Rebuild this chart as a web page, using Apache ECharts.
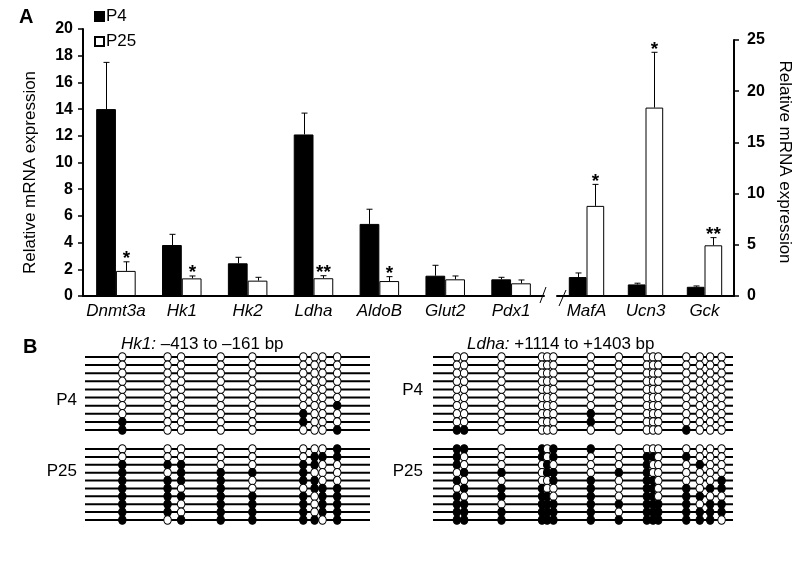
<!DOCTYPE html>
<html><head><meta charset="utf-8">
<script src="https://cdn.jsdelivr.net/npm/echarts/dist/echarts.min.js"></script>
<style>html,body{margin:0;padding:0;background:#fff}#c{width:800px;height:563px}</style>
</head><body><div id="c"></div>
<script>
// ---------- Panel A data ----------
const leftCategories = ['Dnmt3a','Hk1','Hk2','Ldha','AldoB','Glut2','Pdx1'];
const leftP4   = [14.0, 3.82, 2.45, 12.1, 5.4, 1.52, 1.25];
const leftP4SE = [3.5, 0.8, 0.45, 1.6, 1.1, 0.78, 0.15];
const leftP25   = [1.88, 1.32, 1.15, 1.33, 1.12, 1.25, 0.95];
const leftP25SE = [0.68, 0.18, 0.25, 0.19, 0.33, 0.25, 0.25];
const leftSig = ['*','*','','**','*','',''];
const leftTicks = [0,2,4,6,8,10,12,14,16,18,20];

const rightCategories = ['MafA','Ucn3','Gck'];
const rightP4   = [1.85, 1.13, 0.9];
const rightP4SE = [0.4, 0.12, 0.08];
const rightP25   = [8.8, 18.4, 4.95];
const rightP25SE = [2.1, 5.4, 0.75];
const rightSig = ['*','*','**'];
const rightTicks = [0,5,10,15,20,25];

const seriesNames = ['P4','P25'];
const yTitle = 'Relative mRNA expression';

// ---------- Panel B data (1 = methylated CpG) ----------
const hk1Region = [-413, -161];
const hk1Sites = [-380, -340, -328, -293, -265, -220, -210, -203, -190];
const hk1P4 = [
  '000000000','000000000','000000000','000000000','000000000',
  '000000000','000000001','000001000','100001000','100000001'
];
const hk1P25 = [
  '000000001','000000111','111001100','101111000','111101100',
  '110100111','111111011','110111011','110111011','101111101'
];
const ldhaRegion = [1114, 1403];
const ldhaSites = [1137,1144,1180,1219,1224,1230,1266,1293,1320,1326,1331,1358,1371,1381,1392];
const ldhaP4 = [
  '000000000000000','000000000000000','000000000000000','000000000000000','000000000000000',
  '000000000000000','000000000000000','000000100000000','000000100000000','110000000001000'
];
const ldhaP25 = [
  '110101100000000','100101001101000','100010001000100','011011011000000','100001101100001',
  '011100101101011','101110101101100','110111111111011','111111101111111','111111111111110'
];

// ---------- chart ----------
const FONT = 'Liberation Sans, Arial, Helvetica, sans-serif';
const chart = echarts.init(document.getElementById('c'));

function errRender(means, ses, sigs, side) {
  return function (params, api) {
    const i = params.dataIndex;
    const band = api.size([1, 0])[0];
    const off = side * band * 0.15;
    const base = api.coord([i, means[i]]);
    const top = api.coord([i, means[i] + ses[i]]);
    const x = Math.round(base[0] + off) + 0.5;
    const children = [
      {type:'line', shape:{x1:x, y1:base[1], x2:x, y2:top[1]}, style:{stroke:'#000', lineWidth:1}},
      {type:'line', shape:{x1:x-3, y1:top[1], x2:x+3, y2:top[1]}, style:{stroke:'#000', lineWidth:1}}
    ];
    if (sigs[i]) children.push({type:'text', style:{text:sigs[i], x:x, y:top[1]-3,
      textAlign:'center', textVerticalAlign:'middle', font:'bold 19px ' + FONT, fill:'#000'}});
    return {type:'group', children};
  };
}

function barSeries(name, data, gi, white) {
  return {
    type:'bar', name, data, xAxisIndex:gi, yAxisIndex:gi,
    barWidth:'30%', barGap:'0%',
    itemStyle:{color: white ? '#fff' : '#000', borderColor:'#000', borderWidth:1},
    emphasis:{disabled:true}, silent:true
  };
}
function errSeries(means, ses, sigs, side, gi) {
  return {
    type:'custom', xAxisIndex:gi, yAxisIndex:gi, silent:true, z:5,
    data: means.map((v, i) => [i, v + ses[i]]),
    renderItem: errRender(means, ses, sigs, side)
  };
}

function methSeries(gi, region, sites, rows) {
  const lines = {
    type:'custom', xAxisIndex:gi, yAxisIndex:gi, silent:true, z:2,
    encode:{x:[0,2], y:1},
    data: rows.map((r, k) => [region[0], k, region[1]]),
    renderItem: function (params, api) {
      const p1 = api.coord([api.value(0), api.value(1)]);
      const p2 = api.coord([api.value(2), api.value(1)]);
      return {type:'line', shape:{x1:p1[0], y1:p1[1], x2:p2[0], y2:p2[1]}, style:{stroke:'#000', lineWidth:2}};
    }
  };
  const pts = [];
  rows.forEach((r, k) => { sites.forEach((s, j) => pts.push([s, k, +r[j]])); });
  const dots = {
    type:'scatter', xAxisIndex:gi, yAxisIndex:gi, silent:true, z:4,
    symbol:'circle', symbolSize:[7.5, 8.5],
    data: pts,
    itemStyle:{color: p => (p.data[2] ? '#000' : '#fff'), borderColor:'#000', borderWidth:1, opacity:1}
  };
  return [lines, dots];
}

const methAxisX = (gi, region) => ({type:'value', gridIndex:gi, min:region[0], max:region[1], show:false});
const methAxisY = (gi, n) => ({type:'value', gridIndex:gi, min:0, max:n - 1, inverse:true, show:false});

const option = {
  backgroundColor:'#fff',
  animation:false,
  textStyle:{fontFamily:FONT},
  title:[
    {text:'A', left:19, top:7, padding:0, textStyle:{fontSize:20, fontWeight:'bold', color:'#000', fontFamily:FONT}},
    {text:'B', left:23, top:337, padding:0, textStyle:{fontSize:20, fontWeight:'bold', color:'#000', fontFamily:FONT}},
    {text:'{i|Hk1:} –413 to –161 bp', left:121, top:336, padding:0,
      textStyle:{fontSize:17, fontWeight:'normal', color:'#000', fontFamily:FONT,
        rich:{i:{fontStyle:'italic', fontSize:17, color:'#000', fontFamily:FONT}}}},
    {text:'{i|Ldha:} +1114 to +1403 bp', left:467, top:336, padding:0,
      textStyle:{fontSize:17, fontWeight:'normal', color:'#000', fontFamily:FONT,
        rich:{i:{fontStyle:'italic', fontSize:17, color:'#000', fontFamily:FONT}}}}
  ],
  legend:{
    data:seriesNames, orient:'vertical', left:94, top:8, padding:0,
    icon:'rect', itemWidth:9, itemHeight:9, itemGap:8,
    textStyle:{fontSize:17, color:'#000', fontFamily:FONT, padding:[0,0,0,-3]},
    selectedMode:false
  },
  grid:[
    {left:83, top:29, width:461, height:267, containLabel:false},
    {left:557, top:40, width:177, height:256, containLabel:false},
    {left:85, top:357, width:285, height:73, containLabel:false},
    {left:85, top:449, width:285, height:71, containLabel:false},
    {left:433, top:357, width:300, height:73, containLabel:false},
    {left:433, top:449, width:300, height:71, containLabel:false}
  ],
  xAxis:[
    {type:'category', gridIndex:0, data:leftCategories,
      axisLine:{lineStyle:{color:'#000', width:2}},
      axisTick:{length:6, lineStyle:{color:'#000', width:1.5}},
      axisLabel:{fontSize:17, fontStyle:'italic', color:'#000', margin:7, interval:0, fontFamily:FONT}},
    {type:'category', gridIndex:1, data:rightCategories,
      axisLine:{lineStyle:{color:'#000', width:2}},
      axisTick:{length:6, lineStyle:{color:'#000', width:1.5}},
      axisLabel:{fontSize:17, fontStyle:'italic', color:'#000', margin:7, interval:0, fontFamily:FONT}},
    methAxisX(2, hk1Region), methAxisX(3, hk1Region),
    methAxisX(4, ldhaRegion), methAxisX(5, ldhaRegion)
  ],
  yAxis:[
    {type:'value', gridIndex:0, position:'left',
      min:leftTicks[0], max:leftTicks[leftTicks.length-1], interval:leftTicks[1]-leftTicks[0],
      name:yTitle, nameLocation:'middle', nameGap:44,
      nameTextStyle:{fontSize:17, color:'#000', fontFamily:FONT, padding:[0,20,0,0]},
      axisLine:{show:true, lineStyle:{color:'#000', width:2}},
      axisTick:{show:true, length:5, lineStyle:{color:'#000', width:1.5}},
      splitLine:{show:false},
      axisLabel:{fontSize:16, fontWeight:'bold', color:'#000', margin:10, fontFamily:FONT}},
    {type:'value', gridIndex:1, position:'right',
      min:rightTicks[0], max:rightTicks[rightTicks.length-1], interval:rightTicks[1]-rightTicks[0],
      name:yTitle, nameLocation:'middle', nameGap:42, nameRotate:-90,
      nameTextStyle:{fontSize:17, color:'#000', fontFamily:FONT, padding:[0,12,0,0]},
      axisLine:{show:true, lineStyle:{color:'#000', width:2}},
      axisTick:{show:true, length:5, lineStyle:{color:'#000', width:1.5}},
      splitLine:{show:false},
      axisLabel:{fontSize:16, fontWeight:'bold', color:'#000', margin:13, fontFamily:FONT}},
    methAxisY(2, hk1P4.length), methAxisY(3, hk1P25.length),
    methAxisY(4, ldhaP4.length), methAxisY(5, ldhaP25.length)
  ],
  series:[
    barSeries(seriesNames[0], leftP4, 0, false),
    barSeries(seriesNames[1], leftP25, 0, true),
    errSeries(leftP4, leftP4SE, leftSig.map(() => ''), -1, 0),
    errSeries(leftP25, leftP25SE, leftSig, 1, 0),
    barSeries(seriesNames[0], rightP4, 1, false),
    barSeries(seriesNames[1], rightP25, 1, true),
    errSeries(rightP4, rightP4SE, rightSig.map(() => ''), -1, 1),
    errSeries(rightP25, rightP25SE, rightSig, 1, 1),
    ...methSeries(2, hk1Region, hk1Sites, hk1P4),
    ...methSeries(3, hk1Region, hk1Sites, hk1P25),
    ...methSeries(4, ldhaRegion, ldhaSites, ldhaP4),
    ...methSeries(5, ldhaRegion, ldhaSites, ldhaP25)
  ],
  graphic:[
    {type:'rect', shape:{x:545, y:293, width:11, height:6}, style:{fill:'#fff'}, z:100},
    {type:'line', shape:{x1:540, y1:303, x2:546, y2:287}, style:{stroke:'#000', lineWidth:1}, z:101},
    {type:'line', shape:{x1:559, y1:306, x2:566, y2:290}, style:{stroke:'#000', lineWidth:1}, z:101},
    {type:'text', style:{text:'P4', x:77, y:400, textAlign:'right', textVerticalAlign:'middle', font:'17px ' + FONT, fill:'#000'}},
    {type:'text', style:{text:'P25', x:77, y:471, textAlign:'right', textVerticalAlign:'middle', font:'17px ' + FONT, fill:'#000'}},
    {type:'text', style:{text:'P4', x:423, y:390, textAlign:'right', textVerticalAlign:'middle', font:'17px ' + FONT, fill:'#000'}},
    {type:'text', style:{text:'P25', x:423, y:471, textAlign:'right', textVerticalAlign:'middle', font:'17px ' + FONT, fill:'#000'}}
  ]
};
chart.setOption(option);
</script>
</body></html>
